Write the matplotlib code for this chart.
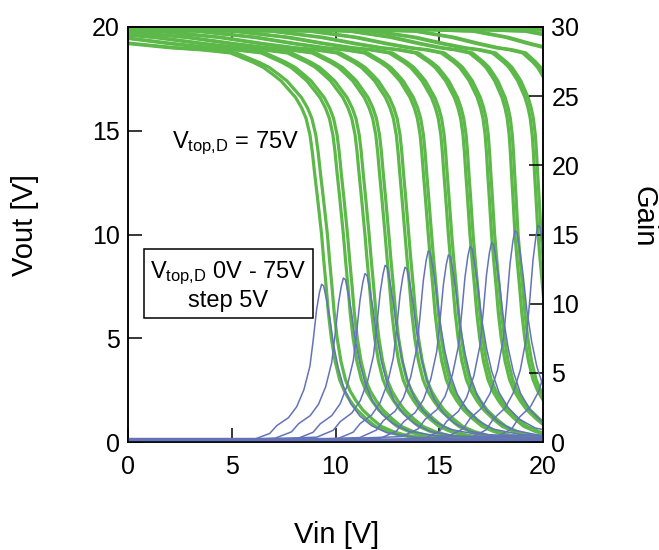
import numpy as np
import matplotlib
matplotlib.use("Agg")
import matplotlib.pyplot as plt

plt.rcParams['font.family'] = ['Liberation Sans', 'DejaVu Sans']
plt.rcParams['mathtext.fontset'] = 'custom'
plt.rcParams['mathtext.rm'] = 'Liberation Sans'
plt.rcParams['mathtext.it'] = 'Liberation Sans:italic'

# Vtop,D = 75V ... 0V (step 5V)
vtop = [75, 70, 65, 60, 55, 50, 45, 40, 35, 30, 25, 20, 15, 10, 5, 0]
v_switch = [9.33, 10.38, 11.42, 12.39, 13.35, 14.47, 15.44, 16.48, 17.52, 18.65,
            19.76, 21.0, 23.0, 25.5, 28.0, 30.5]
knee = [1.0, 0.9, 0.85, 0.8, 0.75, 0.7, 0.65, 0.6, 0.55, 0.5, 0.5, 0.45, 0.4, 0.4, 0.4, 0.4]
sweep_shift = [0.28, 0.2, 0.2, 0.18, 0.18, 0.16, 0.16, 0.15, 0.15, 0.15, 0.15, 0.15, 0.15, 0.15, 0.15, 0.15]
gain_peak = [11.35, 11.7, 12.07, 12.55, 12.55, 13.64, 13.4, 13.88, 14.36, 15.08,
             15.56, 16.0, 16.5, 17.0, 17.5, 18.0]
gain_floor = [0.05, 0.15, 0.1, 0.22, 0.08, 0.18, 0.12, 0.25, 0.06, 0.2, 0.1, 0.16, 0.04, 0.12, 0.2, 0.08]

# transfer curve shape (Vin offset from switching point)
vout_dx = [-30, -16, -12, -9.33, -7.3, -5.8, -4.4, -3.3, -2.8, -2.33, -1.95, -1.6,
           -1.25, -0.96, -0.75, -0.56, -0.45, -0.33, -0.2, 0, 0.1, 0.22, 0.33,
           0.47, 0.65, 0.87, 1.1, 1.37, 1.7, 2.17, 2.6, 3.17, 3.8, 4.7, 7, 12, 30]
vout_val = [19.97, 19.8, 19.5, 19.2, 19.0, 18.9, 18.75, 18.3, 18.05, 17.7, 17.4, 17.0,
            16.6, 16.1, 15.6, 14.8, 14.0, 12.9, 11.8, 10.0, 8.8, 7.5, 6.2,
            5.0, 3.9, 3.0, 2.45, 2.0, 1.55, 1.1, 0.75, 0.5, 0.32, 0.2, 0.1, 0.06, 0.05]

# gain peak shape (fraction of peak)
gain_dx = [-30, -6, -3.3, -2.5, -2.16, -1.6, -1.2, -0.85, -0.56, -0.4, -0.24, -0.1, 0,
           0.1, 0.24, 0.4, 0.57, 0.8, 1.05, 1.4, 1.85, 2.4, 3.14, 4.5, 12, 30]
gain_frac = [0.0, 0.0, 0.01, 0.05, 0.1, 0.15, 0.22, 0.33, 0.48, 0.65, 0.84, 0.95, 1.0,
             0.99, 0.9, 0.78, 0.62, 0.47, 0.35, 0.24, 0.16, 0.1, 0.055, 0.025, 0.005, 0.0]

green = '#5cb848'
blue = '#6473b9'

fig = plt.figure(figsize=(6.59, 5.5), dpi=100)
ax = fig.add_axes([128/659, 108/550, 415/659, 415/550])
ax2 = ax.twinx()

dx = np.array(vout_dx)
for vs, k, sh in zip(v_switch, knee, sweep_shift):
    x = vs + np.where(dx < 0, dx * k, dx)
    ax.plot(x, vout_val, color=green, lw=2.3, solid_capstyle='round')
    ax.plot(x + sh, vout_val, color=green, lw=2.3, solid_capstyle='round')

for vs, gp, fl in zip(v_switch, gain_peak, gain_floor):
    ax2.plot(vs + np.array(gain_dx), fl + gp * np.array(gain_frac), color=blue, lw=1.1)

ax.set_xlim(0, 20)
ax.set_ylim(0, 20)
ax2.set_ylim(0, 30)
ax.set_xticks([0, 5, 10, 15, 20])
ax.set_yticks([0, 5, 10, 15, 20])
ax2.set_yticks([0, 5, 10, 15, 20, 25, 30])

ax.tick_params(axis='x', direction='in', top=True, length=10, width=1.1, labelsize=18, pad=9)
ax.tick_params(axis='y', direction='in', length=10, width=1.1, labelsize=18, pad=6)
ax2.tick_params(axis='y', direction='in', length=10, width=1.1, labelsize=18, pad=6)
for a in (ax, ax2):
    for s in a.spines.values():
        s.set_linewidth(1.1)

ax.set_xlabel('Vin [V]', fontsize=21)
ax.xaxis.label.set_va('center')
ax.xaxis.set_label_coords(0.5036, -0.224)
ax.set_ylabel('Vout [V]', fontsize=21, va='center', ha='center')
ax.yaxis.set_label_coords(-0.248, 0.523)
ax2.set_ylabel('Gain', fontsize=21, rotation=270, va='center', ha='center')
ax2.yaxis.set_label_coords(1.243, 0.542)

ax.text(2.12, 14.17, r'V$_\mathrm{top{,}D}$ = 75V', fontsize=17, ha='left', va='baseline')
ax.text(4.84, 7.54, 'V$_\\mathrm{top{,}D}$ 0V - 75V\nstep 5V', fontsize=17,
        ha='center', va='center', multialignment='center', zorder=5,
        bbox=dict(boxstyle='square,pad=0.25', fc='white', ec='black', lw=1.1))

fig.savefig('out.png', dpi=100)
